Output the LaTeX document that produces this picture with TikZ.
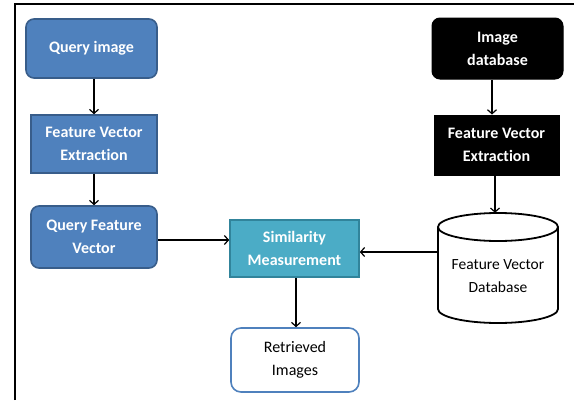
\documentclass[tikz,border=0pt]{standalone}
\usepackage{fontspec}
\setmainfont[Ligatures=NoCommon]{Carlito}
\usetikzlibrary{arrows.meta}
\definecolor{qblue}{HTML}{4F81BD}
\definecolor{qblueb}{HTML}{385D8A}
\definecolor{qteal}{HTML}{4BACC6}
\definecolor{qtealb}{HTML}{31849B}
\tikzset{
  base/.style={minimum width=126pt, minimum height=58pt, inner sep=0pt, align=center, font=\bfseries\fontsize{16}{23}\selectfont, text=white},
  bluebox/.style={base, fill=qblue, draw=qblueb, line width=1.6pt},
  blackbox/.style={base, fill=black, draw=black, line width=1pt},
  tealbox/.style={base, fill=qteal, draw=qtealb, line width=1.6pt},
  rnd/.style={rounded corners=8pt},
  link/.style={line width=1.4pt, -{Straight Barb[length=4pt,width=9pt,line width=1.2pt]}},
}
\begin{document}
\begin{tikzpicture}[x=1pt,y=-1pt]
\useasboundingbox (0,0) rectangle (574,400);
% frame
\draw[line width=2pt] (14.5,400) -- (14.5,4.3) -- (574,4.3);
% left column
\node[bluebox, rnd, minimum width=131pt, minimum height=59pt] (qi) at (91.5,48.5) {Query image};
\node[bluebox] (fvl) at (94,144) {Feature Vector\\Extraction};
\node[bluebox, rnd, minimum height=62pt] (qfv) at (94,237) {Query Feature\\Vector};
% middle
\node[tealbox, minimum width=129pt, minimum height=57pt] (sim) at (294.5,248.5) {Similarity\\Measurement};
\node[base, rnd, rounded corners=10pt, draw=qblue, fill=white, line width=1.6pt, text=black, font=\fontsize{16}{23}\selectfont, minimum width=128pt, minimum height=64pt] (ret) at (295,360) {Retrieved\\Images};
% right column
\node[blackbox, rnd, minimum width=131pt, minimum height=61pt] (idb) at (497.5,48.5) {Image\\database};
\node[blackbox, minimum width=125pt, minimum height=60pt] (fvr) at (496.5,145) {Feature Vector\\Extraction};
% cylinder (drawn) with an invisible node for connections
\node[minimum width=120pt, minimum height=110pt, inner sep=0pt] (cyl) at (498,268) {};
\draw[line width=1.8pt, fill=white] (438,227) -- (438,309) arc[start angle=180, end angle=360, x radius=60pt, y radius=14pt] -- (558,227);
\draw[line width=1.8pt, fill=white] (498,227) ellipse[x radius=60pt, y radius=14pt];
\node[align=center, font=\fontsize{15.5}{23}\selectfont, inner sep=0pt] (cyltext) at (498,276) {Feature Vector\\Database};
% connectors
\draw[link] (qi.south -| fvl) -- (fvl.north);
\draw[link] (fvl.south) -- (qfv.north);
\draw[link] (qfv.east |- 0,240) -- (sim.west |- 0,240);
\draw[link] (cyl.west |- 0,252) -- (sim.east |- 0,252);
\draw[link] (sim.south -| 296,0) -- (ret.north -| 296,0);
\draw[link] (idb.south -| 492,0) -- (fvr.north -| 492,0);
\draw[link] (fvr.south -| 495,0) -- (cyl.north -| 495,0);
\end{tikzpicture}
\end{document}
